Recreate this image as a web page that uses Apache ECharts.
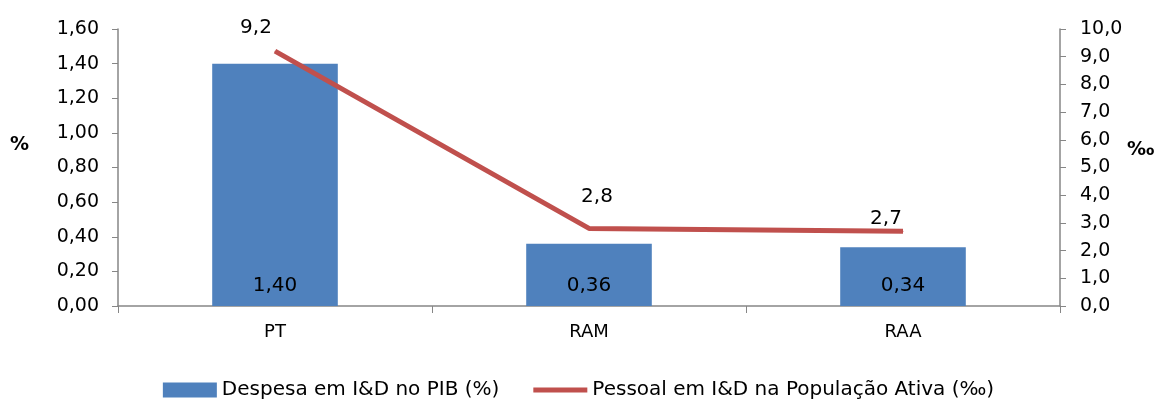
<!DOCTYPE html>
<html>
<head>
<meta charset="utf-8">
<script src="https://cdn.jsdelivr.net/npm/echarts@6/dist/echarts.min.js"></script>
<style>
html,body{margin:0;padding:0;background:#fff;}
#c{width:1157px;height:400px;}
</style>
</head>
<body>
<div id="c"></div>
<script>
const categories = ['PT', 'RAM', 'RAA'];
const despesaPIB = [1.40, 0.36, 0.34];
const pessoalPopAtiva = [9.2, 2.8, 2.7];
const leftTicks = { min: 0, max: 1.6, interval: 0.2 };
const rightTicks = { min: 0, max: 10, interval: 1 };
const seriesNames = ['Despesa em I&D no PIB (%)', 'Pessoal em I&D na População Ativa (‰)'];

const FONT = 'DejaVu Sans';
const fmt = (v, d) => v.toFixed(d).replace('.', ',');
const lineLabelOffsets = [[-19, -8], [8, -16], [-17, 3]];

const chart = echarts.init(document.getElementById('c'));
chart.setOption({
  animation: false,
  textStyle: { fontFamily: FONT },
  grid: { left: 118, right: 97, top: 29, bottom: 94 },
  legend: {
    top: 375,
    left: 'center',
    itemWidth: 54,
    itemHeight: 15,
    itemGap: 34,
    textStyle: { fontFamily: FONT, fontSize: 20, color: '#000' },
    data: [
      { name: seriesNames[0], icon: 'rect' },
      { name: seriesNames[1], icon: 'path://M0,0L0.001,0ZM0,5H54V10H0ZM0,15L0.001,15Z' }
    ]
  },
  xAxis: {
    type: 'category',
    data: categories,
    axisLine: { lineStyle: { color: '#868686', width: 1.5 } },
    axisTick: { show: true, length: 7, lineStyle: { color: '#868686' } },
    axisLabel: { color: '#000', fontSize: 18, fontFamily: FONT, margin: 17 }
  },
  yAxis: [
    {
      type: 'value',
      min: leftTicks.min, max: leftTicks.max, interval: leftTicks.interval,
      splitLine: { show: false },
      axisLine: { show: true, lineStyle: { color: '#868686', width: 1.5 } },
      axisTick: { show: true, length: 6, lineStyle: { color: '#868686' } },
      axisLabel: { color: '#000', fontSize: 19, fontFamily: FONT, margin: 19, formatter: v => fmt(v, 2) }
    },
    {
      type: 'value',
      min: rightTicks.min, max: rightTicks.max, interval: rightTicks.interval,
      splitLine: { show: false },
      axisLine: { show: true, lineStyle: { color: '#868686', width: 1.5 } },
      axisTick: { show: true, length: 6, lineStyle: { color: '#868686' } },
      axisLabel: { color: '#000', fontSize: 19, fontFamily: FONT, margin: 20, formatter: v => fmt(v, 1) }
    }
  ],
  graphic: [
    { type: 'text', left: 10, top: 136, style: { text: '%', fontSize: 19, fontWeight: 'bold', fontFamily: FONT, fill: '#000' } },
    { type: 'text', left: 1127, top: 141, style: { text: '‰', fontSize: 19, fontWeight: 'bold', fontFamily: FONT, fill: '#000' } }
  ],
  series: [
    {
      name: seriesNames[0],
      type: 'bar',
      yAxisIndex: 0,
      barWidth: '40%',
      itemStyle: { color: '#4F81BD' },
      label: {
        show: true, position: 'insideBottom', distance: 10,
        color: '#000', fontSize: 20, fontFamily: FONT,
        formatter: p => fmt(p.value, 2)
      },
      data: despesaPIB
    },
    {
      name: seriesNames[1],
      type: 'line',
      yAxisIndex: 1,
      symbol: 'circle',
      symbolSize: 1,
      showSymbol: true,
      lineStyle: { color: '#C0504D', width: 5 },
      itemStyle: { color: '#C0504D' },
      label: {
        show: true, position: 'top',
        color: '#000', fontSize: 20, fontFamily: FONT,
        formatter: p => fmt(p.value, 1)
      },
      data: pessoalPopAtiva.map((v, i) => ({
        value: v,
        label: { offset: lineLabelOffsets[i] }
      }))
    }
  ]
});
</script>
</body>
</html>
